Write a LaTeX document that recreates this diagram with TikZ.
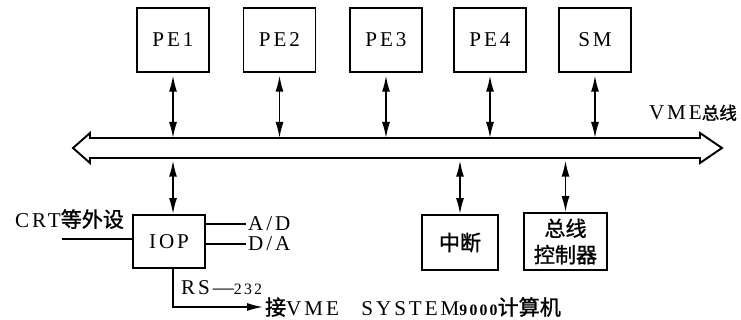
\documentclass[tikz,border=0pt]{standalone}
\usepackage{fontspec}
\setmainfont{Liberation Serif}[LetterSpace=14]
\newfontfamily\cjk{Noto Sans CJK SC}[FakeBold=1.2]
\usetikzlibrary{arrows.meta,positioning,calc}
\tikzset{
    unit/.style={rectangle, draw, line width=1.1pt, minimum width=1.44cm, minimum height=1.28cm, inner sep=1pt, font=\fontsize{12}{15}\selectfont},
    link/.style={line width=0.9pt, shorten <=1.5pt, {Latex[length=3.2mm,width=1.6mm]}-{Latex[length=3.2mm,width=1.6mm]}},
    wire/.style={line width=0.9pt},
    bus/.style={line width=1.1pt, fill=white},
    lbl/.style={font=\fontsize{12}{14}\selectfont, inner sep=1pt},
    small/.style={font=\fontsize{8}{9}\selectfont},
}

\begin{document}
\begin{tikzpicture}[x=0.02cm, y=-0.02cm]
    \useasboundingbox (0,0) rectangle (741,320);
    % Processors and shared memory
    \foreach \x/\name/\lab in {173/pe1/PE1, 279.5/pe2/PE2, 386/pe3/PE3, 490/pe4/PE4, 595/sm/SM} {
        \node[unit] (\name) at (\x,40) {\lab};
    }

    % VME bus
    \coordinate (bustop) at (0,138);
    \coordinate (busbot) at (0,158);
    \draw[bus] (73,148) -- (90,133) -- (90,138) -- (700,138) -- (700,133) -- (722,148)
        -- (700,163) -- (700,158) -- (90,158) -- (90,163) -- cycle;
    \node[lbl, anchor=south east] (buslabel) at (739,123) {VME{\cjk\fontsize{10}{12}\selectfont 总线}};
    \foreach \name in {pe1, pe2, pe3, pe4, sm} {
        \draw[link] (\name) -- (\name |- bustop);
    }

    % Units below the bus
    \node[unit, minimum height=1.06cm] (iop) at (169,241.5) {IOP};
    \node[unit, minimum width=1.52cm, minimum height=1.1cm] (irq) at (460,242.5) {\cjk 中断};
    \node[unit, minimum width=1.66cm, minimum height=1.14cm, align=center] (ctrl) at (565.5,241.5) {\cjk 总线\\\cjk 控制器};
    \draw[link] (pe1 |- busbot) -- (pe1 |- iop.north);
    \draw[link] (irq |- busbot) -- (irq);
    \draw[link] (ctrl |- busbot) -- (ctrl);

    % IOP connections
    \node[lbl, anchor=south west] (crt) at (13,231) {CRT{\cjk 等外设}};
    \coordinate (crtin) at (62,239);
    \draw[wire] (crtin) -- (crtin -| iop.west);
    \node[lbl, anchor=west] (ad) at (246,224) {A/D};
    \node[lbl, anchor=west] (da) at (246,244) {D/A};
    \draw[wire] (iop.east |- ad) -- (ad.west);
    \draw[wire] (iop.east |- da) -- (da.west);
    \node[lbl, anchor=west] (rs) at (179,288) {RS\textemdash{\fontsize{9}{10}\selectfont 232}};
    \node[lbl, anchor=west] (vme) at (263,307) {{\cjk 接}VME\hspace{0.45cm}SYSTEM{\fontsize{9}{10}\selectfont\bfseries 9000}{\cjk 计算机}};
    \draw[wire, -{Latex[length=3.2mm,width=1.6mm]}] (pe1 |- iop.south) |- (vme.west);
\end{tikzpicture}
\end{document}
